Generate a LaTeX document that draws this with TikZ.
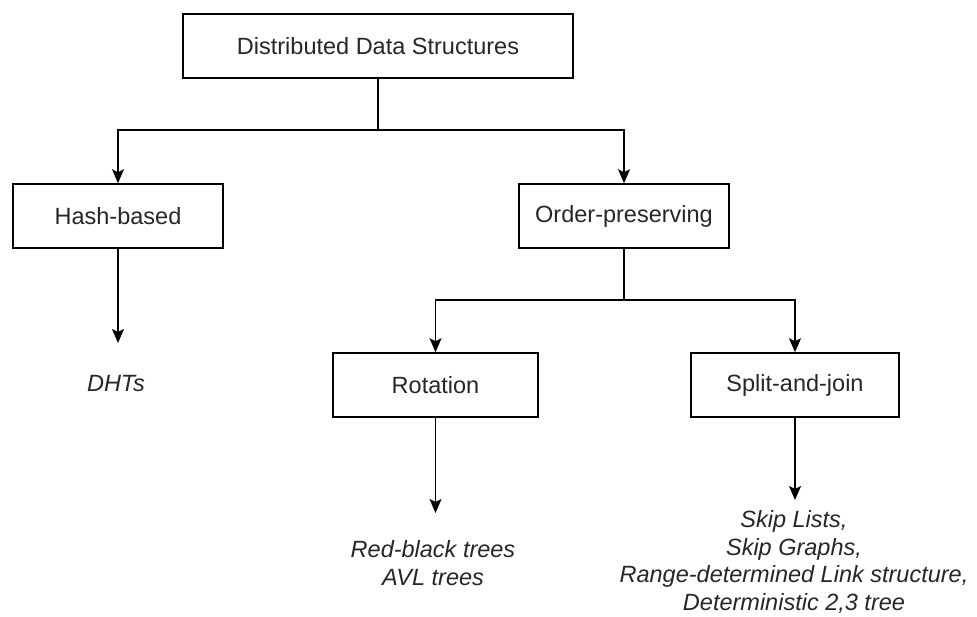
\documentclass[tikz,border=0pt]{standalone}
\usepackage{fontspec}
\setmainfont{Liberation Sans}
\usetikzlibrary{arrows.meta}
\begin{document}
\begin{tikzpicture}[x=1pt,y=-1pt,
  box/.style={draw, line width=1.6pt, minimum height=64pt, inner sep=0pt,
    font=\fontsize{23.5}{28}\selectfont, text=black!85},
  leaf/.style={align=center, inner sep=0pt,
    font=\fontsize{23.5}{27.5}\selectfont\itshape, text=black!85},
  wire/.style={line width=1.6pt},
  link/.style={wire, -{Stealth[length=14pt,width=12pt,inset=3pt]}}]
\useasboundingbox (0,0) rectangle (977,617);

% boxes
\node[box, minimum width=390pt] (root)  at (378,46)   {Distributed Data Structures};
\node[box, minimum width=210pt] (hash)  at (118,216)  {Hash-based};
\node[box, minimum width=210pt] (order) at (624,216)  {Order-preserving};
\node[box, minimum width=205pt] (rot)   at (435.5,385) {Rotation};
\node[box, minimum width=208pt] (split) at (795,385)  {Split-and-join};

% leaf labels
\node[leaf] (dht)   at (116,384) {DHTs};
\node[leaf] (rotl)  at (433,563) {Red-black trees\\AVL trees};
\node[leaf] (splitl) at (794,562) {Skip Lists,\\Skip Graphs,\\Range-determined Link structure,\\Deterministic 2,3 tree};

% junction points
\coordinate (j1) at (378,130);
\coordinate (j2) at (624,300);
\coordinate (e1) at (118,343);
\coordinate (e2) at (435.5,513);
\coordinate (e3) at (795,500);

% connectors
\draw[wire] (root.south) -- (j1);
\draw[link] (j1) -| (hash.north);
\draw[link] (j1) -| (order.north);
\draw[link] (hash.south) -- (e1);

\draw[wire] (order.south) -- (j2);
\draw[link] (j2) -| (rot.north);
\draw[link] (j2) -| (split.north);
\draw[link] (rot.south) -- (e2);
\draw[link] (split.south) -- (e3);
\end{tikzpicture}
\end{document}
